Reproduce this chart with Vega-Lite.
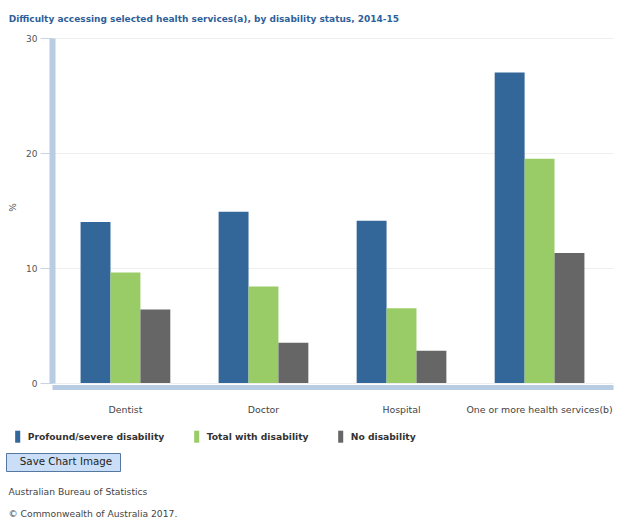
{
  "$schema": "https://vega.github.io/schema/vega-lite/v6.json",
  "autosize": {"type": "none"},
  "padding": {"left": 52, "top": 38, "right": 5, "bottom": 140},
  "width": 561,
  "height": 345,
  "config": {"font": "DejaVu Sans", "view": {"stroke": null}},
  "title": {"text": "Difficulty accessing selected health services(a), by disability status, 2014-15", "anchor": "start", "frame": "group", "fontSize": 9, "fontWeight": "bold", "color": "#2f5f9a", "dx": -43.3, "offset": 10},
  "data": {"values": [
    {"service": "Dentist", "status": "Profound/severe disability", "value": 14.0, "button": "Save Chart Image"},
    {"service": "Dentist", "status": "Total with disability", "value": 9.6, "button": "Save Chart Image"},
    {"service": "Dentist", "status": "No disability", "value": 6.4, "button": "Save Chart Image"},
    {"service": "Doctor", "status": "Profound/severe disability", "value": 14.9, "button": "Save Chart Image"},
    {"service": "Doctor", "status": "Total with disability", "value": 8.4, "button": "Save Chart Image"},
    {"service": "Doctor", "status": "No disability", "value": 3.5, "button": "Save Chart Image"},
    {"service": "Hospital", "status": "Profound/severe disability", "value": 14.1, "button": "Save Chart Image"},
    {"service": "Hospital", "status": "Total with disability", "value": 6.5, "button": "Save Chart Image"},
    {"service": "Hospital", "status": "No disability", "value": 2.8, "button": "Save Chart Image"},
    {"service": "One or more health services(b)", "status": "Profound/severe disability", "value": 27.0, "button": "Save Chart Image"},
    {"service": "One or more health services(b)", "status": "Total with disability", "value": 19.5, "button": "Save Chart Image"},
    {"service": "One or more health services(b)", "status": "No disability", "value": 11.3, "button": "Save Chart Image"}
  ]},
  "mark": {"type": "bar"},
  "encoding": {
    "x": {
      "field": "service", "type": "nominal",
      "sort": ["Dentist", "Doctor", "Hospital", "One or more health services(b)"],
      "scale": {"paddingInner": 0.35, "paddingOuter": 0.207},
      "axis": {
        "title": ["Australian Bureau of Statistics", "© Commonwealth of Australia 2017."],
        "titleX": -44, "titleY": 100, "titleAlign": "left", "titleAnchor": "start", "titleBaseline": "top", "titleLineHeight": 22.3,
        "titleFontSize": 9.2, "titleFontWeight": "normal", "titleColor": "#444",
        "labelAngle": 0, "labelFontSize": 9.4, "labelColor": "#444", "labelPadding": 18, "ticks": false,
        "domainColor": "#b8cce4", "domainWidth": 5, "offset": 4, "grid": false
      }
    },
    "xOffset": {
      "field": "status", "type": "nominal",
      "sort": ["Profound/severe disability", "Total with disability", "No disability"]
    },
    "y": {
      "field": "value", "type": "quantitative",
      "scale": {"domain": [0, 30], "nice": false},
      "axis": {"title": "%", "values": [0, 10, 20, 30], "labelFontSize": 9, "labelColor": "#555", "labelPadding": 3, "tickSize": 12, "tickColor": "#c8d4e2", "domainColor": "#b8cce4", "domainWidth": 6, "gridColor": "#efefef", "titleFontSize": 9, "titleColor": "#555", "titleFontWeight": "normal", "titleX": -35, "titleY": 169}
    },
    "color": {
      "field": "status", "type": "nominal",
      "scale": {"domain": ["Profound/severe disability", "Total with disability", "No disability"], "range": ["#336699", "#99cc66", "#666666"]},
      "legend": {"orient": "none", "legendX": -46, "legendY": 387, "direction": "horizontal", "title": null, "padding": 5.7, "symbolType": "M-0.42,-1H0.42V1H-0.42Z", "symbolSize": 144, "symbolStrokeWidth": 0, "symbolOpacity": 1, "labelFontSize": 9.2, "labelFontWeight": "bold", "labelColor": "#333", "labelOffset": 4, "columnPadding": 26}
    },
    "opacity": {
      "field": "button", "type": "ordinal",
      "scale": {"range": [1, 1]},
      "legend": {"orient": "none", "legendX": -46, "legendY": 415, "direction": "vertical", "title": " ", "titleOrient": "right", "titleFontSize": 9, "titlePadding": 4, "padding": 3.5, "fillColor": "#cadff7", "strokeColor": "#56779f", "symbolSize": 0, "symbolStrokeWidth": 0, "labelOffset": 0, "labelFontSize": 10.3, "labelColor": "#222", "labelFontWeight": "normal"}
    }
  }
}
